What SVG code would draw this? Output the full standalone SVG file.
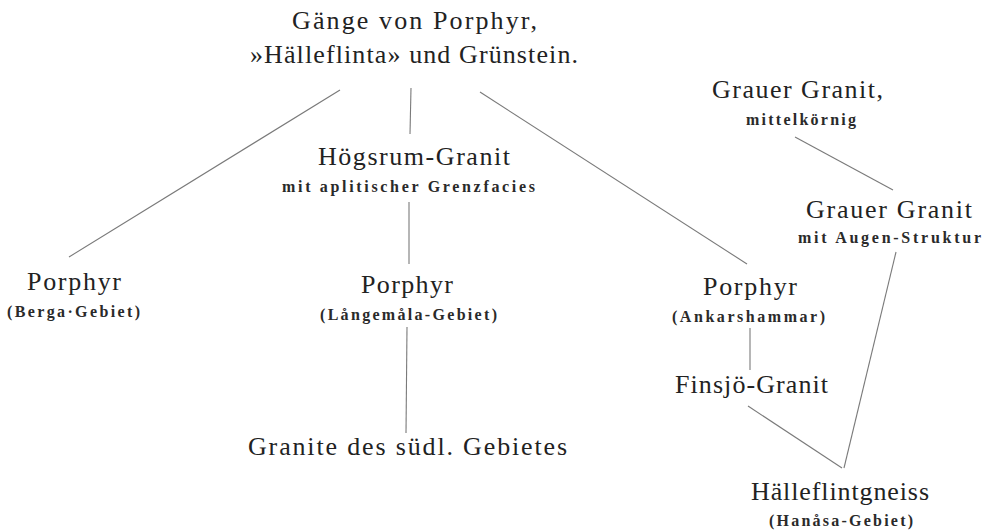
<svg xmlns="http://www.w3.org/2000/svg" width="991" height="530" viewBox="0 0 991 530" font-family="Liberation Serif, DejaVu Serif, serif">
<style>
.bg{fill:#ffffff}
.m{font-family:"Liberation Serif",serif;font-size:26px;fill:#222222}
.s{font-family:"Liberation Serif",serif;font-size:16px;font-weight:bold;fill:#2a2a2a}
.c line{stroke:#7a7a7a;stroke-width:1.1;fill:none}
</style>
<rect class="bg" x="0" y="0" width="991" height="530"/>
<g class="c" id="connectors">
<line x1="340" y1="90" x2="69" y2="257"/>
<line x1="411" y1="88" x2="410" y2="134"/>
<line x1="480" y1="92" x2="747" y2="264"/>
<line x1="409" y1="202" x2="409" y2="264"/>
<line x1="407" y1="327" x2="406" y2="433"/>
<line x1="795" y1="137" x2="893" y2="190"/>
<line x1="896" y1="252" x2="844" y2="468"/>
<line x1="750" y1="328" x2="750" y2="370"/>
<line x1="748" y1="406" x2="842" y2="468"/>
</g>
<g id="gaenge">
<text class="m" x="292" y="29" textLength="245" lengthAdjust="spacing">Gänge von Porphyr,</text>
<text class="m" x="250" y="63" textLength="328" lengthAdjust="spacing">»Hälleflinta» und Grünstein.</text>
</g>
<g id="hoegsrum">
<text class="m" x="318" y="165" textLength="192" lengthAdjust="spacing">Högsrum-Granit</text>
<text class="s" x="282" y="192" textLength="253" lengthAdjust="spacing">mit aplitischer Grenzfacies</text>
</g>
<g id="porphyr-berga">
<text class="m" x="27" y="290" textLength="94" lengthAdjust="spacing">Porphyr</text>
<text class="s" x="7" y="317" textLength="133" lengthAdjust="spacing">(Berga·Gebiet)</text>
</g>
<g id="porphyr-langemala">
<text class="m" x="361" y="293" textLength="92" lengthAdjust="spacing">Porphyr</text>
<text class="s" x="320" y="320" textLength="177" lengthAdjust="spacing">(Långemåla-Gebiet)</text>
</g>
<g id="granite-sued">
<text class="m" x="248" y="455" textLength="319" lengthAdjust="spacing">Granite des südl. Gebietes</text>
</g>
<g id="porphyr-ankarshammar">
<text class="m" x="703" y="295" textLength="94" lengthAdjust="spacing">Porphyr</text>
<text class="s" x="672" y="322" textLength="153" lengthAdjust="spacing">(Ankarshammar)</text>
</g>
<g id="finsjoe">
<text class="m" x="675" y="393" textLength="153" lengthAdjust="spacing">Finsjö-Granit</text>
</g>
<g id="haelleflintgneiss">
<text class="m" x="751" y="500" textLength="178" lengthAdjust="spacing">Hälleflintgneiss</text>
<text class="s" x="769" y="526" textLength="144" lengthAdjust="spacing">(Hanåsa-Gebiet)</text>
</g>
<g id="grauer-mittel">
<text class="m" x="712" y="98" textLength="171" lengthAdjust="spacing">Grauer Granit,</text>
<text class="s" x="746" y="125" textLength="110" lengthAdjust="spacing">mittelkörnig</text>
</g>
<g id="grauer-augen">
<text class="m" x="806" y="218" textLength="166" lengthAdjust="spacing">Grauer Granit</text>
<text class="s" x="798" y="243" textLength="183" lengthAdjust="spacing">mit Augen-Struktur</text>
</g>
</svg>
